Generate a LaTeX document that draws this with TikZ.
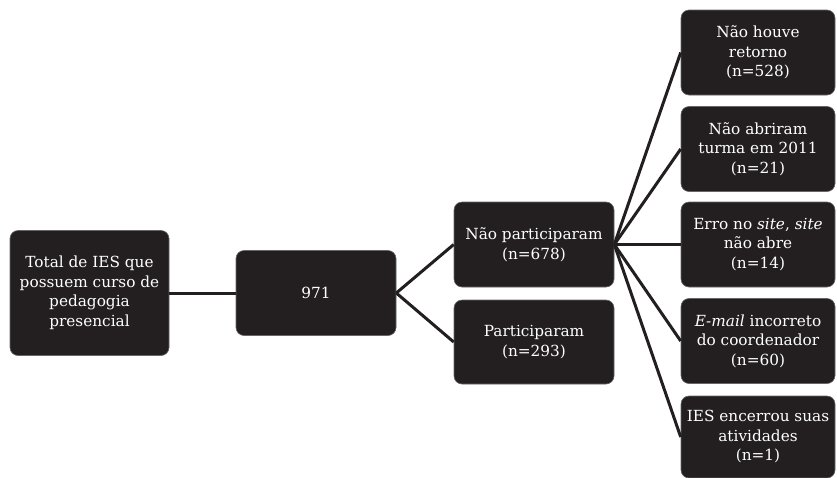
\documentclass[tikz,border=0pt]{standalone}
\usepackage{fontspec}
\setmainfont{DejaVu Serif}
\usepackage{tikz}
\definecolor{caixacor}{HTML}{231F20}

\begin{document}
\begin{tikzpicture}[x=1pt,y=-1pt,
caixa/.style={fill=caixacor, draw=black!60, line width=0.6pt, rounded corners=8pt, text=white, align=center, inner sep=0pt, font=\fontsize{15.3}{19.5}\selectfont},
ligacao/.style={draw=caixacor, line width=3pt}]
\useasboundingbox (0,0) rectangle (837,477);

\node[caixa, minimum width=159pt, minimum height=125pt] (total) at (89.5,293) {Total de IES que\\possuem curso de\\pedagogia\\presencial};
\node[caixa, minimum width=160pt, minimum height=85pt] (n971) at (316,293) {971};
\node[caixa, minimum width=160pt, minimum height=85pt] (naopart) at (534,244.5) {Não participaram\\(n=678)};
\node[caixa, minimum width=160pt, minimum height=84pt] (part) at (534,342) {Participaram\\(n=293)};

\node[caixa, minimum width=154pt, minimum height=85pt] (retorno) at (758,52.5) {Não houve\\retorno\\(n=528)};
\node[caixa, minimum width=154pt, minimum height=85pt] (turma) at (758,149) {Não abriram\\turma em 2011\\(n=21)};
\node[caixa, minimum width=154pt, minimum height=85pt] (site) at (758,244.5) {Erro no \textit{site}, \textit{site}\\não abre\\(n=14)};
\node[caixa, minimum width=154pt, minimum height=85pt] (email) at (758,341) {\textit{E-mail} incorreto\\do coordenador\\(n=60)};
\node[caixa, minimum width=154pt, minimum height=82pt] (encerrou) at (758,437) {IES encerrou suas\\atividades\\(n=1)};

\draw[ligacao] (total.east)--(n971.west);
\draw[ligacao] (n971.east)--(naopart.west);
\draw[ligacao] (n971.east)--(part.west);
\foreach \b in {retorno,turma,site,email,encerrou}{
\draw[ligacao] (naopart.east)--(\b.west);
}
\end{tikzpicture}
\end{document}
